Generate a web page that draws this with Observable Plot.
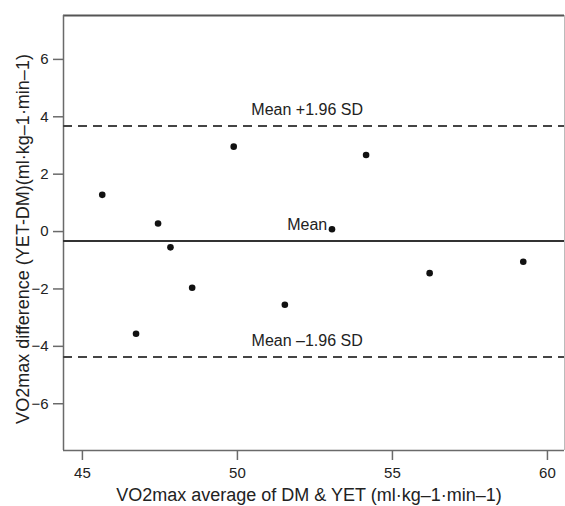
<!DOCTYPE html>
<html>
<head>
<meta charset="utf-8">
<script src="https://cdn.jsdelivr.net/npm/d3@7"></script>
<script src="https://cdn.jsdelivr.net/npm/@observablehq/plot@0.6"></script>
<style>
  html, body { margin: 0; padding: 0; background: #fff; }
  #chart svg { display: block; }
</style>
</head>
<body>
<div id="chart"></div>
<script>
// Data
const avgValues  = [45.64, 46.73, 47.44, 47.84, 48.54, 49.88, 51.53, 53.05, 54.15, 56.2, 59.22];
const diffValues = [1.28, -3.56, 0.28, -0.55, -1.96, 2.96, -2.55, 0.08, 2.67, -1.45, -1.05];

const refValues = [3.68, -0.33, -4.37];
const refLabels = ["Mean +1.96 SD", "Mean", "Mean \u20131.96 SD"];
const refDashed = [true, false, true];
const refLabelX = 52.25;

const xTicks = [45, 50, 55, 60];
const yTicks = [-6, -4, -2, 0, 2, 4, 6];
const xDomain = [44.39, 60.55];
const yDomain = [-7.63, 7.53];

const xTitle = "VO2max average of DM & YET (ml\u00b7kg\u20131\u00b7min\u20131)";
const yTitle = "VO2max difference (YET-DM)(ml\u00b7kg\u20131\u00b7min\u20131)";

const points = avgValues.map((x, i) => ({x, y: diffValues[i]}));
const refs = refValues.map((v, i) => ({v, label: refLabels[i], dashed: refDashed[i]}));

const font = "'Liberation Sans', Arial, Helvetica, sans-serif";

const chart = Plot.plot({
  width: 565,
  height: 506,
  marginLeft: 63,
  marginRight: 1,
  marginTop: 15,
  marginBottom: 56,
  style: {fontFamily: font, background: "#fff", color: "#222"},
  x: {domain: xDomain},
  y: {domain: yDomain},
  marks: [
    // frame edges
    Plot.ruleY([yDomain[1]], {stroke: "#555", strokeWidth: 2}),
    Plot.ruleX([xDomain[1]], {stroke: "#bbb", strokeWidth: 1}),
    Plot.ruleX([xDomain[0]], {stroke: "#6a6a6a", strokeWidth: 1.5}),
    Plot.ruleY([yDomain[0]], {stroke: "#6a6a6a", strokeWidth: 1.5}),
    // reference lines
    Plot.ruleY(refs.filter(d => d.dashed), {y: "v", stroke: "#444", strokeWidth: 2, strokeDasharray: "9,6"}),
    Plot.ruleY(refs.filter(d => !d.dashed), {y: "v", stroke: "#333", strokeWidth: 2}),
    Plot.text(refs, {x: () => refLabelX, y: "v", text: "label", textAnchor: "middle", lineAnchor: "bottom", dy: -11, fontSize: 16, fill: "#222"}),
    // points
    Plot.dot(points, {x: "x", y: "y", r: 3.3, fill: "#111", stroke: "none"}),
    // axes
    Plot.axisX({ticks: xTicks, tickSize: 10, tickPadding: 7, fontSize: 15, label: null, stroke: "#6a6a6a", strokeWidth: 1.5, fill: "#222"}),
    Plot.axisY({ticks: yTicks, tickSize: 10, tickPadding: 5, fontSize: 15, label: null, stroke: "#6a6a6a", strokeWidth: 1.5, fill: "#222"}),
    // axis titles
    Plot.text([xTitle], {frameAnchor: "bottom", text: d => d, lineAnchor: "bottom", dy: 50, dx: -5, fontSize: 18, fill: "#222"}),
    Plot.text([yTitle], {frameAnchor: "left", text: d => d, rotate: -90, lineAnchor: "bottom", textAnchor: "middle", dx: -35, dy: 6, fontSize: 18, fill: "#222"})
  ]
});
document.getElementById("chart").appendChild(chart);
</script>
</body>
</html>
